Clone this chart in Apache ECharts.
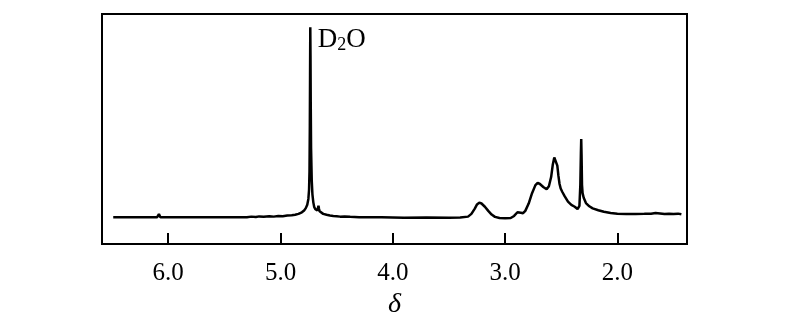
<!DOCTYPE html>
<html><head><meta charset="utf-8">
<script src="https://cdn.jsdelivr.net/npm/echarts@6/dist/echarts.min.js"></script>
<style>html,body{margin:0;padding:0;background:#fff}#c{width:800px;height:326px}</style>
</head><body><div id="c"></div>
<script>
// [chemical shift δ (ppm), intensity]
const spectrum = [
  [6.49, 0], [6.30, 0], [6.10, 0], [6.09, 0.6], [6.083, 1.4], [6.076, 0.6], [6.07, 0],
  [5.80, 0], [5.50, 0], [5.30, 0], [5.26, 0.3], [5.22, 0.1], [5.19, 0.4], [5.15, 0.2],
  [5.10, 0.5], [5.06, 0.3], [5.02, 0.6], [4.98, 0.5], [4.94, 0.8], [4.90, 0.9], [4.87, 1.1],
  [4.84, 1.5], [4.81, 2.2], [4.79, 3.0], [4.775, 4.0], [4.762, 5.5], [4.752, 8], [4.746, 12],
  [4.742, 20], [4.739, 40], [4.737, 62], [4.735, 82.6], [4.733, 70], [4.731, 50], [4.728, 30],
  [4.722, 16], [4.716, 10], [4.708, 6.5], [4.70, 4.5], [4.69, 3.5], [4.672, 3.0], [4.662, 5.0],
  [4.657, 3.6], [4.652, 2.6], [4.64, 2.0], [4.62, 1.5], [4.59, 1.1], [4.56, 0.8], [4.53, 0.6],
  [4.50, 0.5], [4.47, 0.3], [4.43, 0.4], [4.38, 0.2], [4.30, 0], [4.10, 0], [3.90, -0.2],
  [3.70, -0.1], [3.50, -0.2], [3.40, -0.1], [3.33, 0.3], [3.30, 1.5], [3.27, 3.8], [3.25, 5.6],
  [3.23, 6.4], [3.21, 6.0], [3.18, 4.6], [3.15, 2.8], [3.12, 1.2], [3.09, 0.2], [3.05, -0.3],
  [3.00, -0.4], [2.95, -0.3], [2.92, 0.6], [2.89, 2.2], [2.875, 2.8], [2.86, 2.0], [2.84, 1.8],
  [2.82, 2.8], [2.79, 6.0], [2.76, 10.5], [2.73, 14], [2.71, 15], [2.69, 14.5], [2.66, 13.2],
  [2.63, 12.2], [2.61, 13.5], [2.59, 17.5], [2.575, 23], [2.562, 26], [2.553, 26.5], [2.545, 25.5],
  [2.535, 22.5], [2.525, 18], [2.515, 14.5], [2.505, 12.5], [2.49, 11], [2.47, 9.2], [2.44, 6.8],
  [2.41, 5.4], [2.38, 4.6], [2.355, 3.6], [2.338, 5], [2.33, 14], [2.325, 28], [2.322, 34],
  [2.319, 27], [2.315, 14], [2.31, 10.5], [2.30, 8.5], [2.28, 6.2], [2.25, 4.8], [2.22, 3.9],
  [2.17, 3.1], [2.12, 2.4], [2.06, 1.9], [2.00, 1.6], [1.92, 1.4], [1.84, 1.4], [1.76, 1.5],
  [1.70, 1.6], [1.66, 1.9], [1.62, 1.7], [1.58, 1.4], [1.54, 1.6], [1.50, 1.4], [1.46, 1.6],
  [1.43, 1.3]
];
const tickValues = [2, 3, 4, 5, 6];
const xRange = [1.38, 6.59];
const yRange = [-11.6, 88.4];
const peak = spectrum.reduce((a, b) => (b[1] > a[1] ? b : a));
const serif = 'Liberation Serif';

const chart = echarts.init(document.getElementById('c'), null, { renderer: 'canvas' });
chart.setOption({
  animation: false,
  grid: {
    left: 102, right: 113, top: 14, bottom: 82, containLabel: false, outerBoundsMode: 'none',
    show: true, borderColor: '#000', borderWidth: 2, backgroundColor: 'transparent'
  },
  xAxis: {
    type: 'value', inverse: true, min: xRange[0], max: xRange[1],
    axisLine: { show: false, onZero: false },
    splitLine: { show: false },
    axisTick: { show: true, inside: true, length: 11, lineStyle: { color: '#000', width: 2 }, customValues: tickValues },
    axisLabel: { customValues: tickValues, formatter: v => v.toFixed(1), color: '#000', fontFamily: serif, fontSize: 25, margin: 17 },
    name: 'δ', nameLocation: 'middle', nameGap: 44,
    nameTextStyle: { fontFamily: serif, fontStyle: 'italic', fontSize: 28, color: '#000' }
  },
  yAxis: { type: 'value', min: yRange[0], max: yRange[1], show: false },
  series: [{
    type: 'line', data: spectrum, showSymbol: false, silent: true,
    lineStyle: { color: '#000', width: 2.5 },
    markPoint: {
      symbol: 'circle', symbolSize: 1, itemStyle: { color: 'transparent' }, silent: true,
      data: [{ coord: peak }],
      label: {
        show: true, position: [8, 0], formatter: '{a|D}{b|2}{a|O}',
        rich: {
          a: { fontFamily: serif, fontSize: 27, lineHeight: 27, color: '#000' },
          b: { fontFamily: serif, fontSize: 18, lineHeight: 23, verticalAlign: 'bottom', color: '#000' }
        }
      }
    }
  }]
});
</script></body></html>
